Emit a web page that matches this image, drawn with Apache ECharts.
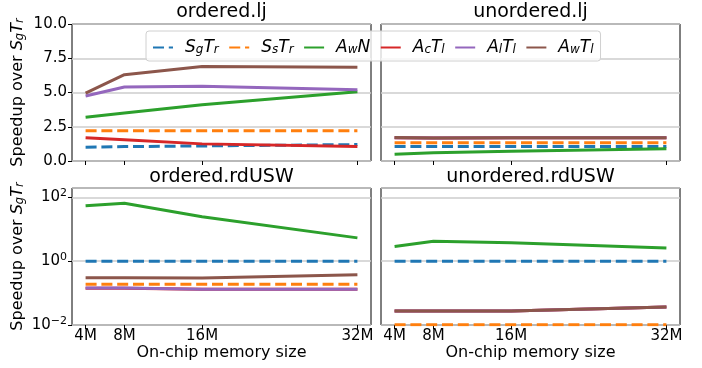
<!DOCTYPE html>
<html><head><meta charset="utf-8">
<script src="https://cdn.jsdelivr.net/npm/echarts@6/dist/echarts.min.js"></script>
<style>html,body{margin:0;padding:0;background:#fff}#c{width:702px;height:368px}</style>
</head><body><div id="c"></div>
<script>
// ---- data ----
const memSizes = [4, 8, 16, 32];
const seriesNames = ['SgTr', 'SsTr', 'AwN', 'AcTl', 'AlTl', 'AwTl'];
const panelTitles = ['ordered.lj', 'unordered.lj', 'ordered.rdUSW', 'unordered.rdUSW'];
const topTicks = [0, 2.5, 5, 7.5, 10];

// ordered.lj
const oLj_SgTr = [1.0, 1.05, 1.1, 1.2];
const oLj_SsTr = [2.2, 2.2, 2.2, 2.2];
const oLj_AwN  = [3.2, 3.5, 4.1, 5.05];
const oLj_AcTl = [1.7, 1.55, 1.25, 1.05];
const oLj_AlTl = [4.75, 5.4, 5.45, 5.2];
const oLj_AwTl = [4.95, 6.3, 6.9, 6.85];
// unordered.lj
const uLj_SgTr = [1.05, 1.05, 1.05, 1.05];
const uLj_SsTr = [1.33, 1.33, 1.33, 1.33];
const uLj_AwN  = [0.5, 0.6, 0.72, 0.9];
const uLj_AcTl = [1.7, 1.68, 1.7, 1.7];
const uLj_AlTl = [1.7, 1.68, 1.7, 1.7];
const uLj_AwTl = [1.72, 1.68, 1.7, 1.7];
// ordered.rdUSW
const oRd_SgTr = [1.0, 1.0, 1.0, 1.0];
const oRd_SsTr = [0.19, 0.19, 0.19, 0.19];
const oRd_AwN  = [55, 66, 25, 5.4];
const oRd_AcTl = [0.143, 0.143, 0.132, 0.132];
const oRd_AlTl = [0.144, 0.144, 0.132, 0.132];
const oRd_AwTl = [0.305, 0.305, 0.3, 0.38];
// unordered.rdUSW
const uRd_SgTr = [1.0, 1.0, 1.0, 1.0];
const uRd_SsTr = [0.0102, 0.0102, 0.0102, 0.0102];
const uRd_AwN  = [2.9, 4.2, 3.8, 2.6];
const uRd_AcTl = [0.0276, 0.0276, 0.0276, 0.037];
const uRd_AlTl = [0.0276, 0.0276, 0.0276, 0.037];
const uRd_AwTl = [0.0276, 0.0276, 0.0276, 0.037];

const panels = [
  [oLj_SgTr, oLj_SsTr, oLj_AwN, oLj_AcTl, oLj_AlTl, oLj_AwTl],
  [uLj_SgTr, uLj_SsTr, uLj_AwN, uLj_AcTl, uLj_AlTl, uLj_AwTl],
  [oRd_SgTr, oRd_SsTr, oRd_AwN, oRd_AcTl, oRd_AlTl, oRd_AwTl],
  [uRd_SgTr, uRd_SsTr, uRd_AwN, uRd_AcTl, uRd_AlTl, uRd_AwTl]
];

// ---- styles ----
const colors = ['#1f77b4', '#ff7f0e', '#2ca02c', '#d62728', '#9467bd', '#8c564b'];
const dashed = [true, true, false, false, false, false];
const FONT = 'DejaVu Sans';
const legendRich = {
  m: {fontFamily: FONT, fontStyle: 'italic', fontSize: 17, lineHeight: 17, verticalAlign: 'top', color: '#000'},
  s: {fontFamily: FONT, fontStyle: 'italic', fontSize: 12, lineHeight: 14, padding: [7, 0, 0, 0], verticalAlign: 'bottom', color: '#000'}
};
const legendLabels = {
  SgTr: '{m|S}{s|g}{m|T}{s|r}',
  SsTr: '{m|S}{s|s}{m|T}{s|r}',
  AwN:  '{m|A}{s|w}{m|N}',
  AcTl: '{m|A}{s|c}{m|T}{s|l}',
  AlTl: '{m|A}{s|l}{m|T}{s|l}',
  AwTl: '{m|A}{s|w}{m|T}{s|l}'
};
const nameRich = {
  n: {fontFamily: FONT, fontSize: 16, lineHeight: 16, verticalAlign: 'top', color: '#000'},
  m: {fontFamily: FONT, fontStyle: 'italic', fontSize: 16, lineHeight: 16, verticalAlign: 'top', color: '#000'},
  s: {fontFamily: FONT, fontStyle: 'italic', fontSize: 11.5, lineHeight: 14, padding: [6, 0, 0, 0], verticalAlign: 'bottom', color: '#000'}
};
const yName = '{n|Speedup over }{m|S}{s|g}{m|T}{s|r}';

const grids = [
  {left: 72, top: 24, width: 299, height: 137},
  {left: 381, top: 24, width: 299, height: 137},
  {left: 72, top: 188, width: 299, height: 137},
  {left: 381, top: 188, width: 299, height: 137}
];
const centers = [221.5, 530.5, 221.5, 530.5];
const titleTops = [3, 3, 168, 168];

const xAxes = grids.map((g, i) => ({
  gridIndex: i, type: 'value', min: 2.6, max: 33.4,
  axisLine: {show: false},
  splitLine: {show: false},
  axisTick: {show: true, customValues: memSizes, length: 4, lineStyle: {color: '#000', width: 1}},
  axisLabel: {show: i >= 2, customValues: memSizes, formatter: v => v + 'M', fontFamily: FONT, fontSize: 15, color: '#000', margin: 4},
  name: i >= 2 ? 'On-chip memory size' : '', nameLocation: 'middle', nameGap: 19,
  nameTextStyle: {fontFamily: FONT, fontSize: 16, color: '#000'}
}));

const yAxes = grids.map((g, i) => {
  const isTop = i < 2;
  const isLeft = i % 2 === 0;
  const base = {
    gridIndex: i,
    axisLine: {show: false},
    axisTick: {show: isLeft, length: 4, lineStyle: {color: '#000', width: 1}},
    splitLine: {show: true, lineStyle: {color: '#cccccc', width: 1.5}},
    name: isLeft ? yName : '', nameLocation: 'middle', nameRotate: 90, nameGap: 46,
    nameTextStyle: {rich: nameRich}
  };
  if (isTop) {
    return Object.assign(base, {type: 'value', min: topTicks[0], max: topTicks[topTicks.length - 1], interval: 2.5,
      axisLabel: {show: isLeft, formatter: v => v.toFixed(1), fontFamily: FONT, fontSize: 15, color: '#000', margin: 5}});
  }
  return Object.assign(base, {type: 'log', logBase: 100, min: 0.01, max: 198,
    axisLabel: {show: isLeft, showMaxLabel: false, fontFamily: FONT, fontSize: 15, color: '#000', margin: 5,
      formatter: v => { const e = Math.round(Math.log10(v)); if (Math.abs(Math.log10(v) - e) > 0.01) return ''; return '10{sup|' + String(e).replace('-', '\u2212') + '}'; },
      rich: {sup: {fontFamily: FONT, fontSize: 11, verticalAlign: 'top', padding: [0, 0, 8, 0], color: '#000'}}}});
});

const series = [];
panels.forEach((vals, p) => {
  vals.forEach((arr, k) => {
    series.push({
      name: seriesNames[k], type: 'line', xAxisIndex: p, yAxisIndex: p,
      data: memSizes.map((x, j) => [x, arr[j]]),
      showSymbol: false, symbol: 'none', animation: false, clip: true,
      lineStyle: {color: colors[k], width: 3, type: dashed[k] ? [11, 4.8] : 'solid', cap: 'butt'},
      itemStyle: {color: colors[k]},
      z: 2 + k * 0.01
    });
  });
});

const chart = echarts.init(document.getElementById('c'), null, {renderer: 'canvas'});
chart.setOption({
  animation: false,
  backgroundColor: '#fff',
  title: panelTitles.map((t, i) => ({
    text: t, left: centers[i], top: titleTops[i], textAlign: 'center', padding: 0,
    textStyle: {fontFamily: FONT, fontSize: 19, fontWeight: 'normal', color: '#000'}
  })),
  grid: grids.map(g => Object.assign({show: true, borderColor: '#000', borderWidth: 1, backgroundColor: 'transparent', containLabel: false}, g)),
  legend: {
    data: seriesNames, left: 146, top: 31, orient: 'horizontal',
    itemWidth: 20, itemHeight: 14, itemGap: 9.5, padding: [6, 7, 5, 6],
    borderColor: '#d0d0d0', borderWidth: 1, borderRadius: 3,
    backgroundColor: 'rgba(255,255,255,0.8)',
    itemStyle: {opacity: 0},
    formatter: n => legendLabels[n],
    textStyle: {rich: legendRich, padding: [0, 0, 0, 7]},
    z: 10
  },
  xAxis: xAxes,
  yAxis: yAxes,
  series: series
});
</script></body></html>
